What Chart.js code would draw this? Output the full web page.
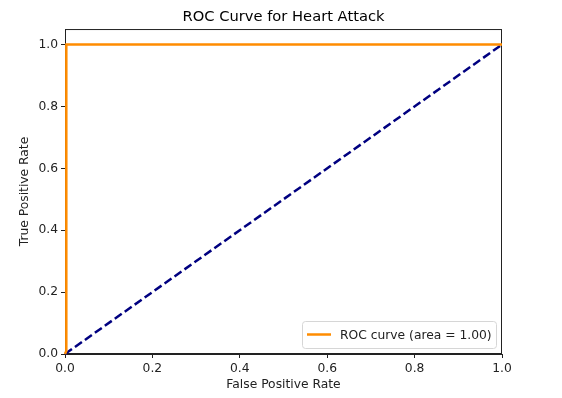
<!DOCTYPE html>
<html>
<head>
<meta charset="utf-8">
<script src="https://cdn.jsdelivr.net/npm/chart.js@4/dist/chart.umd.min.js"></script>
<style>
  body { margin: 0; background: #fff; }
  #wrap { width: 562px; height: 398px; }
</style>
</head>
<body>
<div id="wrap"><canvas id="roc" width="562" height="398"></canvas></div>
<script>
const fpr = [0, 0.003, 0.003, 1];
const tpr = [0, 0.01, 1, 1];
const chanceX = [0, 1];
const chanceY = [0, 1];
const tickValues = [0, 0.2, 0.4, 0.6, 0.8, 1.0];
const rocLabel = 'ROC curve (area = 1.00)';

const FONT = "'DejaVu Sans', sans-serif";
const SMALL = 12.3;

// axes frame goes under the lines, legend on top
const framePlugin = {
    id: 'frame',
    beforeDatasetsDraw(chart) {
        const ctx = chart.ctx;
        const a = chart.chartArea;
        ctx.save();
        ctx.strokeStyle = '#222';
        ctx.lineWidth = 1;
        ctx.strokeRect(a.left + 0.5, a.top + 0.5, a.right - a.left - 1, a.bottom - a.top - 1);
        ctx.restore();
    },
    afterDraw(chart) {
        const ctx = chart.ctx;
        const a = chart.chartArea;
        ctx.save();
        const w = 194, h = 27;
        const x = a.right - 6 - w, y = a.bottom - 6 - h;
        ctx.fillStyle = 'rgba(255,255,255,0.8)';
        ctx.strokeStyle = '#d6d6d6';
        ctx.lineWidth = 1;
        ctx.beginPath();
        ctx.roundRect(x + 0.5, y + 0.5, w, h, 3);
        ctx.fill();
        ctx.stroke();
        ctx.strokeStyle = '#ff8c00';
        ctx.lineWidth = 2.5;
        ctx.beginPath();
        ctx.moveTo(x + 5, y + h / 2);
        ctx.lineTo(x + 29, y + h / 2);
        ctx.stroke();
        ctx.fillStyle = '#222';
        ctx.font = SMALL + 'px ' + FONT;
        ctx.textBaseline = 'middle';
        ctx.fillText(chart.data.datasets[0].label, x + 38, y + h / 2 + 1);
        ctx.restore();
    }
};

const axisCommon = {
    type: 'linear',
    min: 0,
    max: 1,
    grid: { display: true, drawOnChartArea: false, drawTicks: true, tickLength: 4, color: '#222', tickWidth: 1 },
    border: { display: true, color: '#222', width: 1 },
    afterBuildTicks(axis) { axis.ticks = tickValues.map(v => ({ value: v })); },
    ticks: {
        color: '#222',
        font: { family: FONT, size: SMALL },
        padding: 3,
        maxRotation: 0,
        callback: v => v.toFixed(1)
    }
};

new Chart(document.getElementById('roc'), {
    type: 'scatter',
    data: {
        datasets: [
            {
                label: rocLabel,
                data: fpr.map((v, i) => ({ x: v, y: tpr[i] })),
                showLine: true,
                borderColor: '#ff8c00',
                borderWidth: 2.5,
                pointRadius: 0,
                clip: false,
                fill: false
            },
            {
                label: 'chance',
                data: chanceX.map((v, i) => ({ x: v, y: chanceY[i] })),
                showLine: true,
                borderColor: '#000080',
                borderWidth: 2.5,
                borderDash: [8.5, 3.7],
                pointRadius: 0,
                clip: false,
                fill: false
            }
        ]
    },
    options: {
        responsive: false,
        animation: false,
        layout: { padding: { left: 0, right: 60, top: 0, bottom: 0 } },
        plugins: {
            legend: { display: false },
            tooltip: { enabled: false },
            title: {
                display: true,
                fullSize: false,
                text: 'ROC Curve for Heart Attack',
                color: '#000',
                font: { family: FONT, size: 14.7, weight: 'normal' },
                padding: { top: 8, bottom: 3.4 }
            }
        },
        scales: {
            x: Object.assign({}, axisCommon, {
                title: { display: true, text: 'False Positive Rate', color: '#222', font: { family: FONT, size: SMALL }, padding: { top: 3, bottom: 6 } },
                afterFit(s) { s.height = 44; }
            }),
            y: Object.assign({}, axisCommon, {
                max: 1.05,
                title: { display: true, text: 'True Positive Rate', color: '#222', font: { family: FONT, size: SMALL }, padding: { top: 17, bottom: 6 } },
                afterFit(s) { s.width = 65; }
            })
        }
    },
    plugins: [framePlugin]
});
</script>
</body>
</html>
